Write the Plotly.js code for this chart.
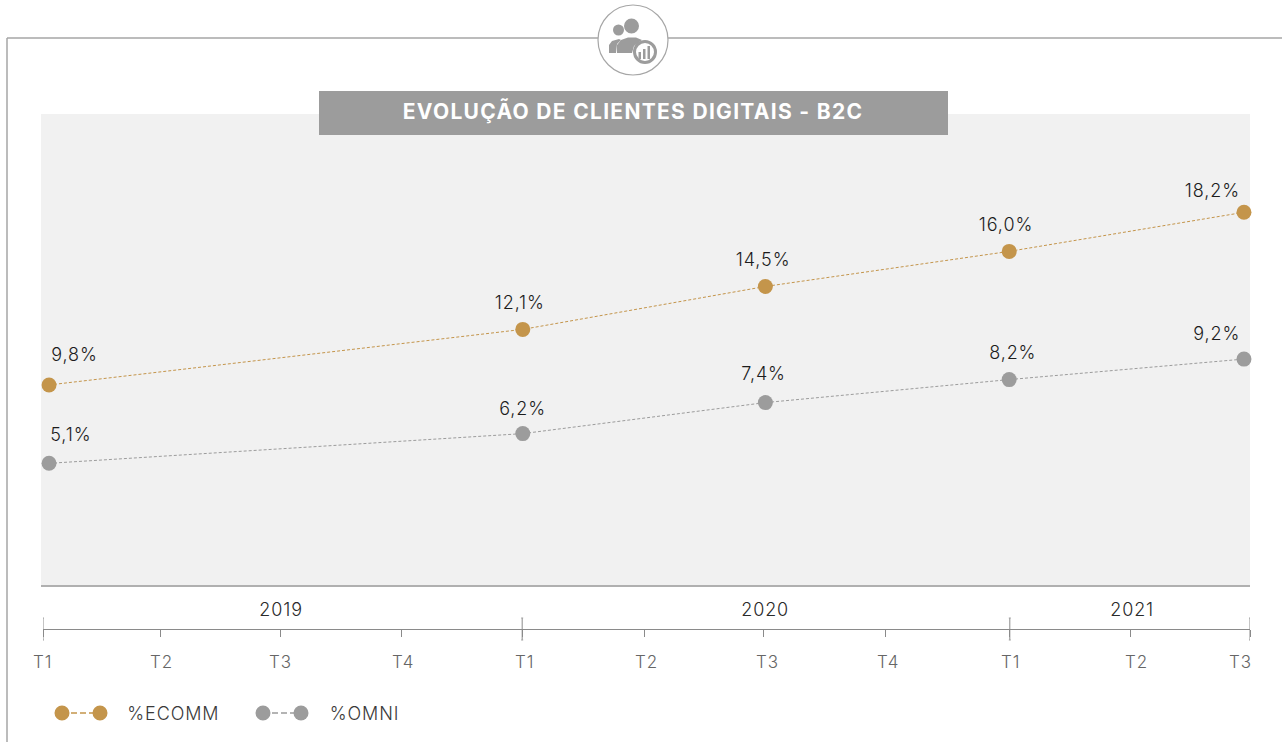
<!DOCTYPE html>
<html>
<head>
<meta charset="utf-8">
<script src="https://cdn.plot.ly/plotly-3.0.1.min.js"></script>
<style>
html,body{margin:0;padding:0;background:#fff}
#chart{width:1282px;height:742px}
#chart .annotation-text{letter-spacing:.9px}
#chart .gtitle{letter-spacing:1.3px}
</style>
</head>
<body>
<div id="chart"></div>
<script>
// Data
var titleText = 'EVOLUÇÃO DE CLIENTES DIGITAIS - B2C';
var seriesNames = ['%ECOMM', '%OMNI'];
var pointX = [0.05, 3.975, 5.985, 8.005, 9.95];        // position on the quarter timeline
var ecommHeights = [9.19, 12.09, 14.33, 16.16, 18.2];  // drawn height
var omniHeights = [5.1, 6.65, 8.27, 9.47, 10.54];
var ecommLabels = ['9,8%', '12,1%', '14,5%', '16,0%', '18,2%'];
var omniLabels = ['5,1%', '6,2%', '7,4%', '8,2%', '9,2%'];
var tickPos = [0, 0.97, 1.97, 2.97, 3.97, 4.98, 5.97, 6.98, 8.01, 9.01, 10];
var quarterLabels = ['T1', 'T2', 'T3', 'T4', 'T1', 'T2', 'T3', 'T4', 'T1', 'T2', 'T3'];
var quarterLabelPos = [0, 0.98, 1.97, 2.98, 3.99, 5.0, 6.0, 7.0, 8.02, 9.06, 9.92];
var yearTicks = [0, 3.97, 8.01, 10];
var years = ['2019', '2020', '2021'];
var yearPos = [1.97, 5.98, 9.02];

var W = 1282, H = 742;
var GOLD = '#c4954b', GREY = '#9c9c9c', FRAME = '#a6a6a6';
var FONT = 'Inter, "Open Sans", sans-serif';
function px(x) { return x / W; }
function py(y) { return 1 - y / H; }

function line(x0, y0, x1, y1, color, width, dash) {
  return {type: 'line', xref: 'paper', yref: 'paper', x0: px(x0), x1: px(x1), y0: py(y0), y1: py(y1),
          line: {color: color, width: width, dash: dash || 'solid'}};
}
function circle(cx, cy, r, fill, lineColor, lineWidth) {
  return {type: 'circle', xref: 'paper', yref: 'paper', x0: px(cx - r), x1: px(cx + r), y0: py(cy + r), y1: py(cy - r),
          fillcolor: fill, line: {color: lineColor || fill, width: lineWidth === undefined ? 0 : lineWidth}};
}
function rect(x0, y0, x1, y1, fill, layer) {
  return {type: 'rect', xref: 'paper', yref: 'paper', layer: layer || 'above', x0: px(x0), x1: px(x1), y0: py(y1), y1: py(y0),
          fillcolor: fill, line: {width: 0}};
}
function poly(points, fill) {
  var d = points.map(function (p, i) { return (i ? 'L' : 'M') + px(p[0]) + ',' + py(p[1]); }).join(' ') + ' Z';
  return {type: 'path', xref: 'paper', yref: 'paper', path: d, fillcolor: fill, line: {width: 0}};
}

var shapes = [
  rect(41, 114, 1250, 585, '#f1f1f1', 'below'),
  line(7, 38, 7, 742, FRAME, 1.5),
  line(7, 38, 598, 38, FRAME, 1.5),
  line(668, 38, 1282, 38, FRAME, 1.5),
  // icon
  circle(633, 40, 35, '#ffffff', FRAME, 1.2),
  circle(618.5, 30, 5.5, GREY),
  circle(631.5, 26, 7.5, GREY),
  poly([[609, 53], [609, 45], [612, 41], [619, 39], [621, 40], [617, 44], [616, 53]], GREY),
  poly([[617, 53], [617, 45], [621, 40], [628, 37.5], [636, 37.5], [642, 40], [634, 46], [632, 53]], GREY),
  circle(645, 52, 10.5, '#ffffff', GREY, 3),
  rect(638.5, 52, 641, 59, GREY),
  rect(643, 49, 645.5, 59, GREY),
  rect(647.5, 46, 650, 59, GREY),
  // title band
  rect(319, 91, 948, 135, GREY),
  // legend keys
  line(62, 713, 100, 713, GOLD, 1.5, '6px,3px'),
  circle(62, 713, 7.5, GOLD),
  circle(100, 713, 7.5, GOLD),
  line(263, 713, 301, 713, GREY, 1.5, '6px,3px'),
  circle(263, 713, 7.5, GREY),
  circle(301, 713, 7.5, GREY)
];
// long year ticks with small caps, placed on the timeline axis
yearTicks.forEach(function (t) {
  shapes.push({type: 'line', xref: 'x2', yref: 'paper', x0: t, x1: t, y0: py(618), y1: py(640),
               line: {color: '#8a8a8a', width: 1}});
  [618, 640].forEach(function (capY) {
    shapes.push({type: 'line', xref: 'x2', yref: 'paper', xsizemode: 'pixel', xanchor: t, x0: -1, x1: 1,
                 y0: py(capY), y1: py(capY), line: {color: '#a0a0a0', width: 1}});
  });
});

var annotations = [];
function label(xv, yv, text, dx, dy) {
  annotations.push({x: xv, y: yv, xref: 'x', yref: 'y', text: text, showarrow: false, xanchor: 'center', yanchor: 'middle',
                    xshift: dx, yshift: dy, font: {family: FONT, size: 18, color: '#1c1c1c', weight: 300}});
}
var ecommShift = [[25, 30], [-3, 27], [-2, 27], [-3, 27], [-31, 22]];
var omniShift = [[22, 29], [0, 25], [-2, 29], [4, 27], [-27, 26]];
pointX.forEach(function (x, i) {
  label(x, ecommHeights[i], ecommLabels[i], ecommShift[i][0], ecommShift[i][1]);
  label(x, omniHeights[i], omniLabels[i], omniShift[i][0], omniShift[i][1]);
});
quarterLabels.forEach(function (t, i) {
  annotations.push({x: quarterLabelPos[i], xref: 'x2', y: py(662), yref: 'paper', text: t, showarrow: false,
                    xanchor: 'center', yanchor: 'middle', font: {family: FONT, size: 17, color: '#666666', weight: 300}});
});
years.forEach(function (t, i) {
  annotations.push({x: yearPos[i], xref: 'x2', y: py(609), yref: 'paper', text: t, showarrow: false,
                    xanchor: 'center', yanchor: 'middle', font: {family: FONT, size: 18, color: '#2a2a2a', weight: 300}});
});
[[128, seriesNames[0]], [330, seriesNames[1]]].forEach(function (a) {
  annotations.push({x: px(a[0]), xref: 'paper', y: py(713), yref: 'paper', text: a[1], showarrow: false,
                    xanchor: 'left', yanchor: 'middle', font: {family: FONT, size: 18, color: '#3a3a3a', weight: 300}});
});

function series(name, ys, color) {
  return {type: 'scatter', mode: 'lines+markers', name: name, x: pointX, y: ys, xaxis: 'x', yaxis: 'y', cliponaxis: false,
          line: {color: color, width: 1, dash: '3px,2px'}, marker: {color: color, size: 15}, hoverinfo: 'skip'};
}
var traces = [series(seriesNames[0], ecommHeights, GOLD), series(seriesNames[1], omniHeights, GREY)];

var layout = {
  width: W, height: H, autosize: false, showlegend: false,
  margin: {l: 0, r: 0, t: 0, b: 0, pad: 0},
  paper_bgcolor: '#ffffff', plot_bgcolor: 'rgba(0,0,0,0)',
  title: {text: '<b>' + titleText + '</b>', x: 633 / W, xanchor: 'center', y: py(112), yanchor: 'middle', xref: 'paper', yref: 'paper',
          font: {family: FONT, size: 21, color: '#ffffff'}},
  xaxis: {domain: [px(41), px(1250)], range: [-0.0166, 10], showgrid: false, zeroline: false, showticklabels: false, ticks: '',
          showline: true, linecolor: '#b0b0b0', linewidth: 2, anchor: 'y', fixedrange: true},
  yaxis: {domain: [py(585), py(114)], range: [-1.25, 23.33], visible: false, fixedrange: true, anchor: 'x'},
  xaxis2: {domain: [px(43), px(1250)], range: [0, 10], anchor: 'y2', showgrid: false, zeroline: false, showticklabels: false,
           showline: true, linecolor: '#8a8a8a', linewidth: 1, ticks: 'outside', ticklen: 7, tickcolor: '#8a8a8a', tickwidth: 1,
           tickmode: 'array', tickvals: tickPos, fixedrange: true},
  yaxis2: {domain: [py(629), py(628)], range: [0, 1], visible: false, fixedrange: true, anchor: 'x2'},
  shapes: shapes, annotations: annotations
};
Plotly.newPlot('chart', traces, layout, {displayModeBar: false, staticPlot: true});
</script>
</body>
</html>
